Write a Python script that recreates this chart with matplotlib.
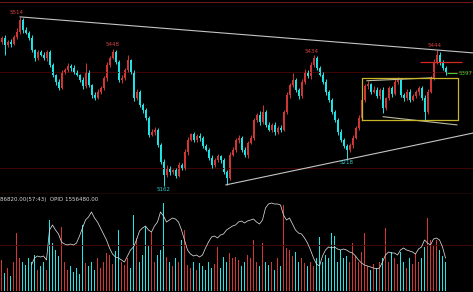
import numpy as np
import matplotlib
matplotlib.use("Agg")
import matplotlib.pyplot as plt

# Closing prices per bar, open = previous close
first_open = 5462
closes = [
    5470, 5456, 5462, 5458, 5472, 5483, 5508, 5487, 5481, 5470,
    5445, 5429, 5441, 5435, 5429, 5441, 5414, 5393, 5379, 5366,
    5399, 5404, 5412, 5408, 5399, 5393, 5383, 5370, 5399, 5372,
    5352, 5345, 5358, 5366, 5387, 5414, 5429, 5441, 5420, 5383,
    5387, 5404, 5424, 5399, 5345, 5358, 5331, 5320, 5303, 5268,
    5274, 5279, 5247, 5212, 5185, 5199, 5191, 5195, 5183, 5206,
    5199, 5233, 5258, 5270, 5258, 5266, 5262, 5245, 5237, 5220,
    5206, 5216, 5224, 5216, 5191, 5179, 5227, 5237, 5258, 5262,
    5237, 5227, 5252, 5262, 5299, 5310, 5295, 5316, 5289, 5279,
    5289, 5274, 5283, 5279, 5316, 5352, 5372, 5383, 5362, 5349,
    5379, 5399, 5391, 5414, 5429, 5408, 5393, 5379, 5358, 5341,
    5316, 5299, 5274, 5258, 5245, 5237, 5247, 5262, 5283, 5303,
    5341, 5370, 5374, 5358, 5362, 5349, 5362, 5324, 5345, 5366,
    5354, 5379, 5383, 5352, 5345, 5358, 5341, 5349, 5358, 5366,
    5345, 5316, 5358, 5387, 5420, 5435, 5420, 5408, 5397]

# wick lengths above / below the body (price points)
up_wick = [
    4, 6, 3, 5, 4, 7, 6, 3, 5, 4,
    6, 3, 5, 4, 6, 3, 5, 4, 3, 6,
    5, 4, 6, 3, 5, 4, 3, 6, 19, 4,
    3, 5, 6, 4, 3, 5, 4, 7, 3, 5,
    6, 4, 11, 3, 5, 6, 4, 3, 5, 4,
    6, 5, 3, 4, 5, 6, 4, 3, 5, 6,
    4, 5, 6, 3, 5, 4, 6, 3, 5, 4,
    6, 5, 4, 3, 5, 4, 6, 5, 4, 6,
    3, 5, 4, 6, 5, 3, 7, 15, 4, 5,
    3, 6, 4, 5, 4, 6, 5, 14, 4, 3,
    5, 6, 4, 5, 5, 4, 3, 6, 5, 4,
    3, 5, 4, 6, 3, 5, 4, 5, 4, 6,
    5, 4, 6, 3, 8, 5, 4, 6, 3, 5,
    4, 6, 5, 3, 4, 6, 5, 4, 3, 5,
    4, 6, 5, 4, 6, 9, 5, 4, 3]
lo_wick = [
    5, 21, 4, 6, 3, 5, 4, 6, 3, 5,
    4, 6, 5, 3, 4, 6, 5, 4, 6, 5,
    3, 4, 5, 6, 4, 3, 5, 6, 4, 5,
    6, 4, 3, 5, 4, 6, 5, 3, 4, 5,
    6, 4, 5, 3, 6, 4, 5, 6, 4, 5,
    3, 6, 4, 5, 23, 4, 6, 5, 4, 3,
    5, 4, 6, 3, 5, 4, 6, 5, 3, 4,
    6, 5, 4, 6, 5, 15, 4, 3, 5, 6,
    4, 5, 6, 3, 4, 5, 6, 4, 5, 3,
    4, 6, 5, 4, 3, 5, 6, 4, 5, 6,
    3, 4, 5, 6, 4, 5, 3, 4, 6, 5,
    4, 5, 6, 4, 5, 19, 4, 6, 3, 5,
    4, 5, 6, 4, 3, 5, 6, 10, 4, 5,
    6, 3, 4, 5, 6, 4, 5, 3, 4, 6,
    5, 17, 4, 3, 5, 4, 6, 5, 4]

volume = [
    31, 18, 23, 15, 29, 58, 33, 29, 26, 33,
    29, 36, 21, 25, 29, 21, 71, 48, 41, 35,
    64, 29, 21, 25, 19, 23, 17, 66, 28, 25,
    29, 21, 33, 23, 29, 38, 36, 27, 40, 61,
    29, 26, 33, 23, 76, 53, 29, 36, 64, 46,
    59, 29, 36, 41, 88, 34, 29, 25, 33, 29,
    51, 61, 26, 23, 29, 21, 28, 25, 21, 29,
    23, 27, 44, 23, 34, 29, 38, 33, 34, 31,
    25, 29, 36, 33, 51, 29, 25, 48, 29, 26,
    29, 21, 33, 25, 86, 43, 41, 35, 39, 29,
    33, 28, 25, 29, 25, 33, 54, 29, 36, 33,
    58, 55, 29, 41, 33, 35, 29, 48, 35, 29,
    39, 58, 25, 21, 27, 23, 29, 33, 63, 29,
    39, 33, 27, 39, 29, 23, 33, 27, 37, 29,
    33, 44, 73, 51, 45, 51, 41, 35, 29]

# open interest curve (panel units), starts at bar 10
oi = [None] * 10 + [
    26, 33, 35, 34, 35, 31, 61, 66, 61, 57,
    49, 47, 46, 47, 46, 48, 55, 63, 71, 74,
    79, 73, 69, 63, 57, 51, 43, 37, 34, 33,
    31, 29, 35, 41, 44, 51, 60, 63, 65, 61,
    59, 65, 69, 79, 75, 69, 71, 73, 72, 69,
    61, 51, 41, 37, 35, 36, 34, 36, 43, 49,
    54, 55, 53, 56, 57, 61, 63, 65, 66, 69,
    70, 68, 70, 71, 72, 69, 67, 71, 83, 87,
    88, 87, 87, 86, 76, 71, 73, 67, 61, 58,
    57, 53, 48, 41, 33, 27, 25, 35, 41, 44,
    43, 44, 42, 41, 42, 41, 39, 38, 35, 31,
    28, 26, 25, 24, 23, 22, 23, 29, 36, 39,
    38, 38, 36, 41, 43, 41, 40, 39, 37, 42,
    44, 51, 48, 46, 52, 53, 51, 44, 33]

# hand-drawn objects: (bar index, price)
upper_trend = ([6.2, 157.2], [5514, 5439])
lower_trend = ([74.8, 157.2], [5164, 5272])
box_top_line = ([121.8, 143.5], [5381, 5387])
box_bot_line = ([127.2, 151.8], [5306, 5289])
box_x = (120.2, 152.2)
box_y = (5299, 5387)
stop_level = (5420, 139.5, 153.5)
grid_prices = [5399, 5199]
peak_labels = [(6, 5514, -2.5, 4), (37, 5448, 0.5, 3.7), (104, 5434, -1.5, 3.4), (145, 5444, -1.5, 4.6)]
trough_labels = [(54, 5162, 0, -4), (115, 5218, 0.5, -4)]
last_price = 5397
vol_text = "86820.00(57:43)  OPID 1556480.00"

n = len(closes)
assert len(up_wick) == n and len(lo_wick) == n and len(volume) == n and len(oi) == n
x = np.arange(n)
closes = np.array(closes, float)
opens = np.concatenate([[first_open], closes[:-1]])
highs = np.maximum(opens, closes) + np.array(up_wick)
lows = np.minimum(opens, closes) - np.array(lo_wick)
up = closes >= opens

RED = "#d43636"
CYAN = "#1ee6e6"
GRID = "#420707"
BORDER = "#8a1c1c"
colors = np.where(up, RED, CYAN)

W, H = 473, 292
fig = plt.figure(figsize=(W / 100, H / 100), dpi=100, facecolor="black")
ax_p = fig.add_axes([0, 1 - 194 / H, 1, 192 / H], facecolor="black")
ax_v = fig.add_axes([0, 1 / H, 1, 97 / H], facecolor="black")
xmax = W / 3 - 0.5
for ax in (ax_p, ax_v):
    ax.set_xlim(-0.5, xmax)
    ax.set_xticks([]); ax.set_yticks([])
    for s in ax.spines.values():
        s.set_visible(False)

# price panel
ax_p.set_ylim(5145, 5545)
ax_p.axhline(5545, color=BORDER, lw=1.2)
ax_p.axhline(5145.5, color=BORDER, lw=1.0)
for gp in grid_prices:
    ax_p.axhline(gp, color=GRID, lw=0.7)

ax_p.vlines(x, lows, highs, colors=colors, lw=0.7)
body_h = np.maximum(np.abs(closes - opens), 1.5)
ax_p.bar(x, body_h, bottom=np.minimum(opens, closes), width=0.65, color=colors, lw=0)

ax_p.plot(*upper_trend, color="#c4c4c4", lw=0.8)
ax_p.plot(*lower_trend, color="#c4c4c4", lw=0.8)
ax_p.plot(*box_top_line, color="#bdbda0", lw=0.8)
ax_p.plot(*box_bot_line, color="#bdbda0", lw=0.8)
bx = [box_x[0], box_x[1], box_x[1], box_x[0], box_x[0]]
by = [box_y[0], box_y[0], box_y[1], box_y[1], box_y[0]]
ax_p.plot(bx, by, color="#c8b42a", lw=0.9)
ax_p.hlines(stop_level[0], stop_level[1], stop_level[2], color="#d42828", lw=0.9)

for i, p, dx, dy in peak_labels:
    ax_p.annotate(str(p), (i, p), xytext=(dx, dy), textcoords="offset pixels",
                  ha="center", va="center", fontsize=4, color="#d84040")
for i, p, dx, dy in trough_labels:
    ax_p.annotate(str(p), (i, p), xytext=(dx, dy), textcoords="offset pixels",
                  ha="center", va="center", fontsize=4, color="#30c8c8")

ax_p.hlines(last_price, n - 0.5, n + 2.8, color="#3cd23c", lw=0.8)
ax_p.annotate(str(last_price), (n - 1, last_price), xytext=(13.5, 0), textcoords="offset pixels",
              ha="left", va="center", fontsize=4, color="#3cd23c")

# volume panel
ax_v.set_ylim(0, 97)
ax_v.axhline(46, color=GRID, lw=0.7)
ax_v.bar(x, volume, width=0.5, color=colors, lw=0)
oi_arr = np.array([np.nan if v is None else v for v in oi], float)
ax_v.plot(x, oi_arr, color="#d8d8d8", lw=0.55)
ax_v.text(0, 1 - 5 / 97, vol_text, transform=ax_v.transAxes, ha="left", va="center",
          fontsize=4, color="#d8d8d8")

fig.savefig("out.png", dpi=100, facecolor="black")
